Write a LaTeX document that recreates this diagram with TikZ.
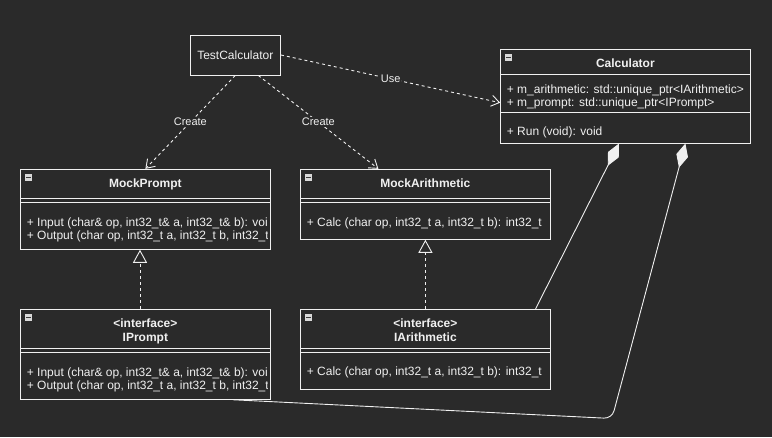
\documentclass[tikz,border=0pt]{standalone}
\usepackage{fontspec}
\setmainfont{Liberation Sans}
\usetikzlibrary{arrows.meta, positioning, calc}

\definecolor{canvas}{HTML}{2A2A2A}
\definecolor{ink}{HTML}{F0F0F0}
\definecolor{iconfill}{HTML}{D9D9D9}
\definecolor{icondash}{HTML}{3A3A3A}

\begin{document}
\begin{tikzpicture}
[
	x 					= 1pt,
	y 					= -1pt, % one unit per pixel, y grows downwards
	class/.style 		=
	{
		draw 			= ink,
		line width 		= 0.9pt,
		rectangle,
		inner sep 		= 0pt,
		minimum width 	= 249.5pt
	},
	plainbox/.style 	=
	{
		draw 			= ink,
		line width 		= 0.9pt,
		inner sep 		= 0pt,
		minimum width 	= 90.5pt,
		minimum height 	= 40pt,
		text 			= ink,
		font 			= \fontsize{12}{14}\selectfont
	},
	title/.style 		= {text = ink, inner sep = 0pt, anchor = base, font = \fontsize{12}{14}\selectfont\bfseries},
	member/.style 		= {text = ink, inner sep = 0pt, anchor = base west, font = \fontsize{12}{14}\selectfont},
	sepline/.style 		= {ink, line width = 0.9pt},
	foldicon/.style 	=
	{
		rectangle,
		fill 			= iconfill,
		minimum size 	= 7.5pt,
		inner sep 		= 0pt,
		path picture 	=
		{
			\draw [icondash, line width = 1.2pt]
				([xshift = 1.5pt]path picture bounding box.west) -- ([xshift = -1.5pt]path picture bounding box.east);
		}
	},
	dep/.style 			= {ink, line width = 0.9pt, dash pattern = on 3pt off 3pt, -{Straight Barb[length = 8pt, width = 11pt]}},
	realize/.style 		= {ink, line width = 0.9pt, dash pattern = on 3pt off 3pt, -{Triangle[open, length = 13pt, width = 14pt]}},
	compose/.style 		= {ink, line width = 0.9pt, -{Diamond[length = 25pt, width = 12pt, fill = ink]}},
	tag/.style 			= {text = ink, fill = canvas, inner sep = 1pt, font = \fontsize{11}{13}\selectfont},
]

\fill [canvas] (0, 0) rectangle (772, 437);
\useasboundingbox (0, 0) rectangle (772, 437);

% boxes
\node [plainbox] (tc) at (235.3, 55) {TestCalculator};

\node [class, minimum height = 93.7pt] (calc) at (625.4, 96.2) {};
\node [class, minimum height = 80pt] (mp) at (145.4, 209.3) {};
\node [class, minimum height = 70pt] (ma) at (425.4, 204.3) {};
\node [class, minimum height = 90pt] (ip) at (145.4, 354.3) {};
\node [class, minimum height = 80pt] (ia) at (425.4, 349.3) {};

% compartments
\draw [sepline] ([yshift = -25.7pt]calc.north west) -- ([yshift = -25.7pt]calc.north east);
\draw [sepline] ([yshift = -64pt]calc.north west) -- ([yshift = -64pt]calc.north east);
\foreach \cls in {mp, ma}
{
	\draw [sepline] ([yshift = -30pt]\cls.north west) -- ([yshift = -30pt]\cls.north east);
	\draw [sepline] ([yshift = -34pt]\cls.north west) -- ([yshift = -34pt]\cls.north east);
}
\foreach \cls in {ip, ia}
{
	\draw [sepline] ([yshift = -40pt]\cls.north west) -- ([yshift = -40pt]\cls.north east);
	\draw [sepline] ([yshift = -44pt]\cls.north west) -- ([yshift = -44pt]\cls.north east);
}

% fold icons
\foreach \cls in {calc, mp, ma, ip, ia}
{
	\node [foldicon] (\cls-fold) at ([shift = {(8.5pt, -8.5pt)}]\cls.north west) {};
}

% titles
\node [title] (calc-t) at (625.4, 67) {Calculator};
\node [title] (mp-t) at (145.4, 187) {MockPrompt};
\node [title] (ma-t) at (425.4, 187) {MockArithmetic};
\node [title] (ip-s) at (145.4, 327.6) {<interface>};
\node [title] (ip-t) at (145.4, 341) {IPrompt};
\node [title] (ia-s) at (425.4, 327.6) {<interface>};
\node [title] (ia-t) at (425.4, 341) {IArithmetic};

% members
\node [member] (calc-a1) at (506.7, 93.3) {+ m\_arithmetic: std::unique\_ptr<IArithmetic>};
\node [member] (calc-a2) at (506.7, 106.6) {+ m\_prompt: std::unique\_ptr<IPrompt>};
\node [member] (calc-m1) at (506.7, 135) {+ Run (void): void};

\node [member] (ma-m1) at (306.7, 226) {+ Calc (char op, int32\_t a, int32\_t b): int32\_t};
\node [member] (ia-m1) at (306.7, 375) {+ Calc (char op, int32\_t a, int32\_t b): int32\_t};

\begin{scope}
	\clip (mp.south west) rectangle ([xshift = -3.5pt]mp.north east); % long lines are cut near the border
	\node [member] (mp-m1) at (26.7, 226) {+ Input (char\& op, int32\_t\& a, int32\_t\& b): voi};
	\node [member] (mp-m2) at (26.7, 239.3) {+ Output (char op, int32\_t a, int32\_t b, int32\_t};
\end{scope}
\begin{scope}
	\clip (ip.south west) rectangle ([xshift = -3.5pt]ip.north east);
	\node [member] (ip-m1) at (26.7, 376) {+ Input (char\& op, int32\_t\& a, int32\_t\& b): voi};
	\node [member] (ip-m2) at (26.7, 389.3) {+ Output (char op, int32\_t a, int32\_t b, int32\_t};
\end{scope}

% relations
\draw [dep] (tc.south) -- node [tag] (create-l) {Create} (mp.north);
\draw [dep] ([xshift = 23pt]tc.south) -- node [tag] (create-r) {Create} ([xshift = -47pt]ma.north);
\draw [dep] (tc.east) -- node [tag] (use-l) {Use} ([yshift = -6.5pt]calc.west);

\draw [realize] ([xshift = -5.4pt]ip.north) -- ([xshift = -5.4pt]mp.south);
\draw [realize] (ia.north) -- (ma.south);

\draw [compose] ([xshift = -15pt]ia.north east) -- ([xshift = -6.4pt]calc.south);
\coordinate (bend) at (612, 418.5);
\draw [compose, rounded corners = 8pt] ([xshift = 87.6pt]ip.south) -- (bend) -- ([xshift = 60pt]calc.south);

\end{tikzpicture}
\end{document}
